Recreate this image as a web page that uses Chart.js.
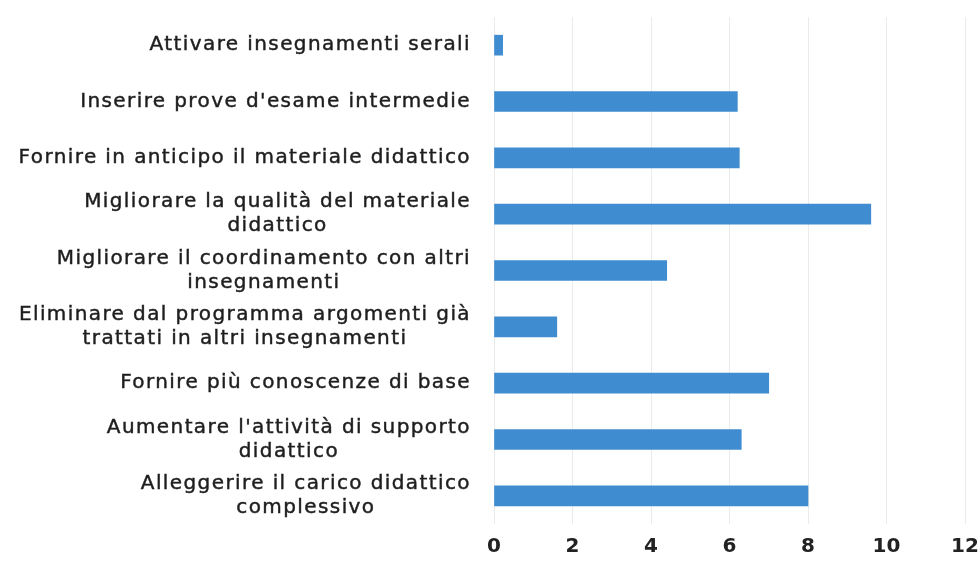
<!DOCTYPE html>
<html>
<head>
<meta charset="utf-8">
<script src="https://cdn.jsdelivr.net/npm/chart.js@4/dist/chart.umd.min.js"></script>
<style>
  html, body { margin: 0; padding: 0; background: #fff; }
  #wrap { width: 980px; height: 566px; }
</style>
</head>
<body>
<div id="wrap"><canvas id="chart" width="980" height="566"></canvas></div>
<script>
// categories, top to bottom
var categories = [
  ['Attivare insegnamenti serali'],
  ["Inserire prove d'esame intermedie"],
  ['Fornire in anticipo il materiale didattico'],
  ['Migliorare la qualità del materiale', 'didattico'],
  ['Migliorare il coordinamento con altri', 'insegnamenti'],
  ['Eliminare dal programma argomenti già', 'trattati in altri insegnamenti'],
  ['Fornire più conoscenze di base'],
  ["Aumentare l'attività di supporto", 'didattico'],
  ['Alleggerire il carico didattico', 'complessivo']
];
var values = [0.22, 6.2, 6.25, 9.6, 4.4, 1.6, 7.0, 6.3, 8.0];
var xTicks = [0, 2, 4, 6, 8, 10, 12];

// category labels: block right-aligned, lines centred inside the block
var labelPlugin = {
  id: 'catLabels',
  afterDraw: function (chart) {
    var c = chart.ctx, y = chart.scales.y;
    var right = y.right - 23, lh = 24;
    c.save();
    c.font = '20px "DejaVu Sans"';
    c.letterSpacing = '1.4px';
    c.fillStyle = '#1e1e1e';
    c.strokeStyle = '#1e1e1e';
    c.lineWidth = 0.45;
    c.textAlign = 'center';
    c.textBaseline = 'middle';
    categories.forEach(function (lines, i) {
      var w = Math.max.apply(null, lines.map(function (t) { return c.measureText(t).width; }));
      var cx = right - w / 2;
      var cy = y.getPixelForValue(i) - (lines.length - 1) * lh / 2;
      lines.forEach(function (t, k) {
        c.fillText(t, cx, cy + k * lh);
        c.strokeText(t, cx, cy + k * lh);
      });
    });
    c.restore();
  }
};

var ctx = document.getElementById('chart').getContext('2d');
var chart = new Chart(ctx, {
  type: 'bar',
  data: {
    labels: categories,
    datasets: [{
      data: values,
      backgroundColor: '#3f8dd0',
      barThickness: 20
    }]
  },
  options: {
    indexAxis: 'y',
    responsive: false,
    animation: false,
    layout: { padding: { top: 17, right: 0, bottom: 0, left: 0 } },
    plugins: { legend: { display: false }, tooltip: { enabled: false } },
    scales: {
      x: {
        min: 0, max: 12,
        afterBuildTicks: function (s) { s.ticks = xTicks.map(function (v) { return { value: v }; }); },
        afterFit: function (s) { s.height = 42; s.paddingRight = 15; s.paddingLeft = 0; },
        grid: { color: '#ebebeb', drawTicks: false },
        border: { display: false },
        ticks: { color: '#222', padding: 11, font: { family: 'DejaVu Sans', size: 20, weight: 'bold' } }
      },
      y: {
        grid: { display: false },
        border: { display: false },
        ticks: { display: false },
        afterFit: function (s) { s.width = 494; }
      }
    }
  },
  plugins: [labelPlugin]
});
</script>
</body>
</html>
